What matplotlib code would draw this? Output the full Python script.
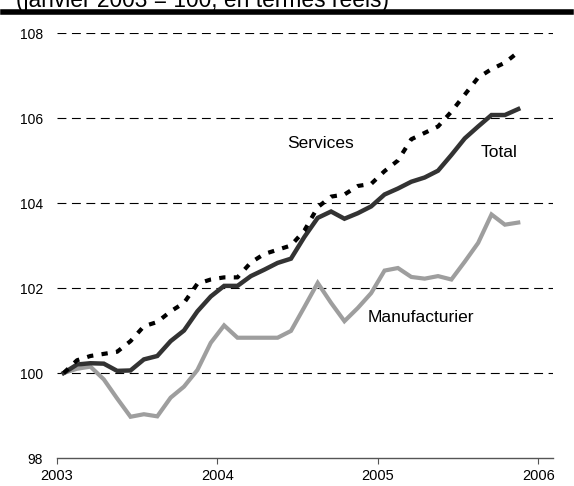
import matplotlib
matplotlib.use("Agg")
import matplotlib.pyplot as plt
import numpy as np

plt.rcParams['font.family'] = ['Liberation Sans', 'DejaVu Sans']

# monthly data, janvier 2003 to novembre 2005
months = np.arange(35)
services = [100.0, 100.3, 100.4, 100.45, 100.5, 100.75, 101.1, 101.2, 101.45, 101.65,
            102.1, 102.2, 102.25, 102.25, 102.6, 102.8, 102.9, 103.0, 103.35, 103.9,
            104.15, 104.2, 104.4, 104.45, 104.75, 105.0, 105.5, 105.65, 105.8, 106.15,
            106.55, 106.95, 107.15, 107.3, 107.55]
total = [100.0, 100.2, 100.23, 100.22, 100.05, 100.06, 100.32, 100.4, 100.75, 101.0,
         101.45, 101.8, 102.05, 102.05, 102.28, 102.43, 102.59, 102.69, 103.2, 103.65,
         103.8, 103.63, 103.76, 103.92, 104.2, 104.34, 104.5, 104.6, 104.76, 105.13,
         105.52, 105.8, 106.07, 106.07, 106.21]
manuf = [100.0, 100.1, 100.15, 99.85, 99.4, 98.97, 99.03, 98.98, 99.42, 99.68,
         100.07, 100.71, 101.12, 100.83, 100.83, 100.83, 100.83, 100.99, 101.55, 102.12,
         101.65, 101.22, 101.53, 101.88, 102.41, 102.47, 102.26, 102.22, 102.28, 102.2,
         102.62, 103.06, 103.73, 103.49, 103.54]
years = [2003, 2004, 2005, 2006]
yticks = [98, 100, 102, 104, 106, 108]

x = 2003 + (months + 0.5) / 12

fig = plt.figure(figsize=(5.74, 4.86), dpi=100)
ax = fig.add_axes([57 / 574, 28 / 486, 496 / 574, 425 / 486])

for y in yticks[1:]:
    ax.axhline(y, color='black', lw=0.8, ls=(0, (8, 5)), zorder=1)

ax.plot(x, manuf, color='#9e9e9e', lw=3, solid_joinstyle='miter', zorder=3)
ax.plot(x, total, color='#333333', lw=3.2, solid_joinstyle='miter', zorder=4)
ax.plot(x, services, color='black', lw=3, ls=(0, (1.5, 2)), dash_capstyle='butt', zorder=5)

ax.set_xlim(2003, 2003 + 37.1 / 12)
ax.set_ylim(98, 108)
ax.set_xticks(years)
ax.set_xticklabels([str(v) for v in years], fontsize=10.5)
ax.set_yticks(yticks)
ax.set_yticklabels([str(v) for v in yticks], fontsize=10)
ax.tick_params(axis='y', length=0, pad=10)
ax.tick_params(axis='x', length=4, direction='out', color='#555555', pad=4)
for s in ['top', 'right', 'left']:
    ax.spines[s].set_visible(False)
ax.spines['bottom'].set_color('#555555')
ax.spines['bottom'].set_linewidth(1)

ax.text(2003 + 17.2 / 12, 105.4, 'Services', fontsize=12.5, va='center', ha='left')
ax.text(2003 + 31.7 / 12, 105.2, 'Total', fontsize=12.5, va='center', ha='left')
ax.text(2003 + 23.2 / 12, 101.3, 'Manufacturier', fontsize=12.5, va='center', ha='left')

# cropped heading from the source page
fig.text(16 / 574, 1 - 7 / 486, '(janvier 2003 = 100, en termes réels)', fontsize=16.4,
         va='baseline', ha='left')
fig.add_artist(plt.Line2D([3 / 574, 571 / 574], [1 - 12 / 486, 1 - 12 / 486],
                          color='black', lw=4, transform=fig.transFigure))

fig.savefig('out.png', dpi=100)
